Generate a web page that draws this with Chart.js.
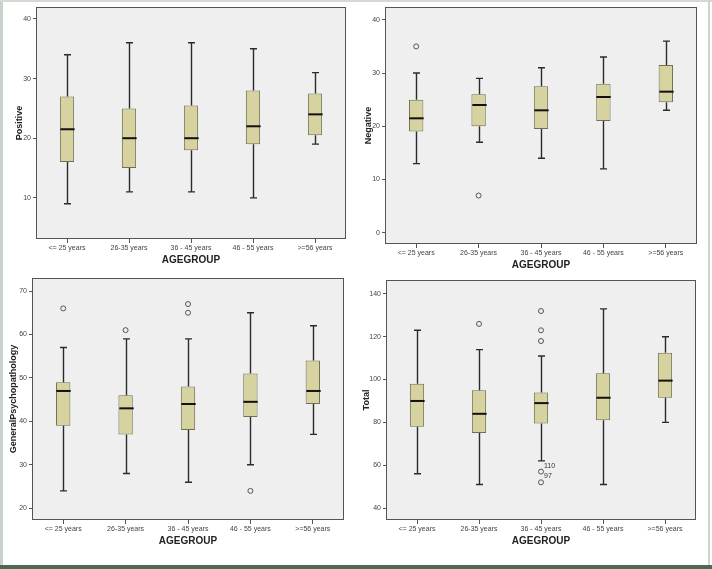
<!DOCTYPE html>
<html>
<head>
<meta charset="utf-8">
<script src="https://cdn.jsdelivr.net/npm/chart.js@4.4.1/dist/chart.umd.min.js"></script>
<style>
  html, body { margin: 0; padding: 0; background: #fff; }
  #page { position: relative; width: 712px; height: 569px; overflow: hidden; background: #fff; }
  #page canvas { position: absolute; }
  .edge { position: absolute; }
</style>
</head>
<body>
<div id="page">
  <canvas id="cPos"></canvas>
  <canvas id="cNeg"></canvas>
  <canvas id="cGen"></canvas>
  <canvas id="cTot"></canvas>
  <div class="edge" style="left:0;top:0;width:3px;height:569px;background:#c9d2c9"></div>
  <div class="edge" style="left:0;top:0;width:712px;height:2px;background:#d3dad3"></div>
  <div class="edge" style="left:708px;top:0;width:2px;height:569px;background:#d0d4d0"></div>
  <div class="edge" style="left:0;top:565px;width:712px;height:4px;background:#4b6a51"></div>
</div>
<script>
// age groups on the x axis
const ageGroups = ['<= 25 years', '26-35 years', '36 - 45 years', '46 - 55 years', '>=56 years'];

// Positive
const posMin = [9, 11, 11, 10, 19];
const posQ1  = [16, 15, 18, 19, 20.5];
const posMed = [21.5, 20, 20, 22, 24];
const posQ3  = [27, 25, 25.5, 28, 27.5];
const posMax = [34, 36, 36, 35, 31];
const posTicks = [10, 20, 30, 40];

// Negative
const negMin = [13, 17, 14, 12, 23];
const negQ1  = [19, 20, 19.5, 21, 24.5];
const negMed = [21.5, 24, 23, 25.5, 26.5];
const negQ3  = [25, 26, 27.5, 28, 31.5];
const negMax = [30, 29, 31, 33, 36];
const negOutGroup = [0, 1];
const negOutValue = [35, 7];
const negTicks = [0, 10, 20, 30, 40];

// GeneralPsychopathology
const genMin = [24, 28, 26, 30, 37];
const genQ1  = [39, 37, 38, 41, 44];
const genMed = [47, 43, 44, 44.5, 47];
const genQ3  = [49, 46, 48, 51, 54];
const genMax = [57, 59, 59, 65, 62];
const genOutGroup = [0, 1, 2, 2, 3];
const genOutValue = [66, 61, 67, 65, 24];
const genTicks = [20, 30, 40, 50, 60, 70];

// Total
const totMin = [56, 51, 62, 51, 80];
const totQ1  = [78, 75, 79.5, 81, 91.5];
const totMed = [90, 84, 89, 91.5, 99.5];
const totQ3  = [98, 95, 94, 103, 112.5];
const totMax = [123, 114, 111, 133, 120];
const totOutGroup = [1, 2, 2, 2, 2, 2];
const totOutValue = [126, 132, 123, 118, 57, 52];
const totOutLabel = ['', '', '', '', '110', '97'];
const totTicks = [40, 60, 80, 100, 120, 140];

const FONT = "'Liberation Sans', Arial, sans-serif";

// background + frame of the plot area
const framePlugin = {
  id: 'frame',
  beforeDraw(chart) {
    const a = chart.chartArea, ctx = chart.ctx;
    ctx.save();
    ctx.fillStyle = '#efefef';
    ctx.fillRect(a.left, a.top, a.right - a.left, a.bottom - a.top);
    ctx.restore();
  },
  afterDraw(chart) {
    const a = chart.chartArea, ctx = chart.ctx;
    ctx.save();
    ctx.strokeStyle = '#555';
    ctx.lineWidth = 1;
    ctx.strokeRect(a.left + 0.5, a.top + 0.5, a.right - a.left - 1, a.bottom - a.top - 1);
    ctx.restore();
  }
};

// whiskers, caps, medians and outlier labels
const boxPlugin = {
  id: 'whiskers',
  afterDatasetsDraw(chart, args, opts) {
    const ctx = chart.ctx, xs = chart.scales.x, ys = chart.scales.y;
    const bars = chart.getDatasetMeta(0).data;
    ctx.save();
    ctx.strokeStyle = '#2b2b2b';
    ctx.lineWidth = 1.4;
    opts.min.forEach((v, i) => {
      const x = Math.round(xs.getPixelForValue(i)) + 0.5;
      const w = bars[i].width;
      const capW = 7;
      ctx.beginPath();
      ctx.moveTo(x, ys.getPixelForValue(opts.max[i]));
      ctx.lineTo(x, ys.getPixelForValue(opts.q3[i]));
      ctx.moveTo(x, ys.getPixelForValue(opts.q1[i]));
      ctx.lineTo(x, ys.getPixelForValue(v));
      ctx.moveTo(x - capW / 2, ys.getPixelForValue(opts.max[i]));
      ctx.lineTo(x + capW / 2, ys.getPixelForValue(opts.max[i]));
      ctx.moveTo(x - capW / 2, ys.getPixelForValue(v));
      ctx.lineTo(x + capW / 2, ys.getPixelForValue(v));
      ctx.stroke();
      ctx.save();
      ctx.strokeStyle = '#111';
      ctx.lineWidth = 2;
      ctx.beginPath();
      const ym = ys.getPixelForValue(opts.med[i]);
      ctx.moveTo(x - w / 2, ym);
      ctx.lineTo(x + w / 2, ym);
      ctx.stroke();
      ctx.restore();
    });
    if (opts.labels) {
      ctx.fillStyle = '#333';
      ctx.font = '7px ' + FONT;
      ctx.textAlign = 'left';
      ctx.textBaseline = 'middle';
      opts.labels.forEach((t, i) => {
        if (!t) return;
        const x = xs.getPixelForValue(opts.outGroup[i]);
        const y = ys.getPixelForValue(opts.outValue[i]);
        ctx.fillText(t, x + 3, y - 6);
      });
    }
    ctx.restore();
  }
};

function makePanel(id, pos, yTitle, yWidth, pad, mins, q1s, meds, q3s, maxs, outGroup, outValue, outLabel, yMin, yMax, yTicks) {
  const el = document.getElementById(id);
  el.style.left = pos[0] + 'px';
  el.style.top = pos[1] + 'px';
  el.width = pos[2];
  el.height = pos[3];
  el.style.width = pos[2] + 'px';
  el.style.height = pos[3] + 'px';

  const datasets = [{
    type: 'bar',
    data: q1s.map((q, i) => [q, q3s[i]]),
    backgroundColor: '#d7d3a0',
    borderColor: '#6f6f55',
    borderWidth: 1,
    borderSkipped: false,
    barPercentage: 0.23,
    categoryPercentage: 1
  }];
  if (outGroup.length) {
    datasets.push({
      type: 'line',
      data: outGroup.map((g, i) => ({ x: ageGroups[g], y: outValue[i] })),
      showLine: false,
      pointStyle: 'circle',
      pointRadius: 2.5,
      pointBorderWidth: 1,
      pointBorderColor: '#555',
      pointBackgroundColor: 'rgba(0,0,0,0)'
    });
  }

  return new Chart(el, {
    type: 'bar',
    data: { labels: ageGroups, datasets: datasets },
    options: {
      responsive: false,
      animation: false,
      devicePixelRatio: 1,
      layout: { padding: { left: pad[0], top: pad[1], right: pad[2], bottom: 0 } },
      plugins: {
        legend: { display: false },
        tooltip: { enabled: false },
        whiskers: { min: mins, q1: q1s, med: meds, q3: q3s, max: maxs, outGroup: outGroup, outValue: outValue, labels: outLabel }
      },
      scales: {
        x: {
          offset: true,
          grid: { display: true, offset: false, drawOnChartArea: false, tickLength: 4, color: '#555' },
          border: { display: false },
          ticks: { font: { family: FONT, size: 7 }, color: '#444', padding: 1, maxRotation: 0, autoSkip: false },
          title: { display: true, text: 'AGEGROUP', font: { family: FONT, size: 10, weight: 'bold' }, color: '#222', padding: { top: 0, bottom: 19 } },
          afterFit: s => { s.height = 46; }
        },
        y: {
          min: yMin,
          max: yMax,
          afterBuildTicks: s => { s.ticks = yTicks.map(v => ({ value: v })); },
          grid: { display: true, drawOnChartArea: false, tickLength: 3, color: '#555' },
          border: { display: false },
          ticks: { font: { family: FONT, size: 7 }, color: '#444', padding: 2 },
          title: { display: true, text: yTitle, font: { family: FONT, size: 9, weight: 'bold' }, color: '#222', padding: 0 },
          afterFit: s => { s.width = yWidth; }
        }
      }
    },
    plugins: [framePlugin, boxPlugin]
  });
}

makePanel('cPos', [0, 0, 356, 285], 'Positive', 22, [14, 7, 10],
  posMin, posQ1, posMed, posQ3, posMax, [], [], null, 3.1, 42, posTicks);
makePanel('cNeg', [356, 0, 356, 290], 'Negative', 22, [7, 7, 15],
  negMin, negQ1, negMed, negQ3, negMax, negOutGroup, negOutValue, null, -2.1, 42.4, negTicks);
makePanel('cGen', [0, 270, 356, 296], 'GeneralPsychopathology', 24, [8, 8, 12],
  genMin, genQ1, genMed, genQ3, genMax, genOutGroup, genOutValue, null, 17.3, 73, genTicks);
makePanel('cTot', [356, 270, 356, 296], 'Total', 25, [5, 10, 16],
  totMin, totQ1, totMed, totQ3, totMax, totOutGroup, totOutValue, totOutLabel, 34.4, 146.5, totTicks);
</script>
</body>
</html>
